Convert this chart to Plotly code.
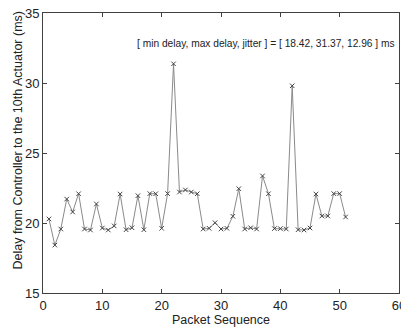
import plotly.graph_objects as go

packets = list(range(1, 52))
delay_ms = [20.29, 18.42, 19.57, 21.71, 20.79, 22.09, 19.57, 19.50, 21.36, 19.64,
            19.50, 19.79, 22.07, 19.52, 19.66, 21.95, 19.52, 22.10, 22.09, 19.62,
            22.10, 31.37, 22.21, 22.36, 22.21, 22.09, 19.57, 19.62, 20.02, 19.57,
            19.62, 20.48, 22.45, 19.57, 19.66, 19.57, 23.36, 22.09, 19.60, 19.60,
            19.57, 29.80, 19.52, 19.50, 19.64, 22.07, 20.50, 20.50, 22.10, 22.10,
            20.43]
x_ticks = [0, 10, 20, 30, 40, 50, 60]
y_ticks = [15, 20, 25, 30, 35]
annotation_text = "[ min delay, max delay, jitter ] = [ 18.42, 31.37, 12.96 ] ms"
x_title = "Packet Sequence"
y_title = "Delay from Controller to the 10th Actuator (ms)"

FONT = "Liberation Sans, Arial"
fig = go.Figure()
fig.add_trace(go.Scatter(
    x=packets, y=delay_ms, mode="lines+markers",
    line=dict(color="#8a8a8a", width=1),
    marker=dict(symbol="x-thin", size=4.5, line=dict(color="#444444", width=1), color="#444444"),
    showlegend=False, cliponaxis=False,
))

axis_common = dict(
    showgrid=False, zeroline=False, showline=True, linecolor="#404040", linewidth=1,
    mirror="ticks", ticks="inside", ticklen=4, tickcolor="#404040",
    tickfont=dict(family=FONT, size=13, color="#222222"),
    ticklabeloverflow="allow", automargin=False,
)
fig.update_xaxes(range=[0, 60], tickvals=x_ticks, title=dict(text=x_title, standoff=1,
                 font=dict(family=FONT, size=12.5, color="#222222")), **axis_common)
fig.update_yaxes(range=[15, 35], tickvals=y_ticks, **axis_common)

# y-axis title placed as rotated text
fig.add_annotation(x=-0.07, y=0.545, xref="paper", yref="paper", text=y_title, showarrow=False,
                   textangle=-90, xanchor="center", yanchor="middle",
                   font=dict(family=FONT, size=12.5, color="#222222"))

fig.add_annotation(x=37.6, y=32.8, xref="x", yref="y", text=annotation_text, showarrow=False,
                   font=dict(family=FONT, size=10.2, color="#222222"))

fig.update_layout(
    width=401, height=329,
    margin=dict(l=43, r=2, t=13, b=36, autoexpand=False),
    paper_bgcolor="white", plot_bgcolor="white",
)
fig.write_html("out.html")
